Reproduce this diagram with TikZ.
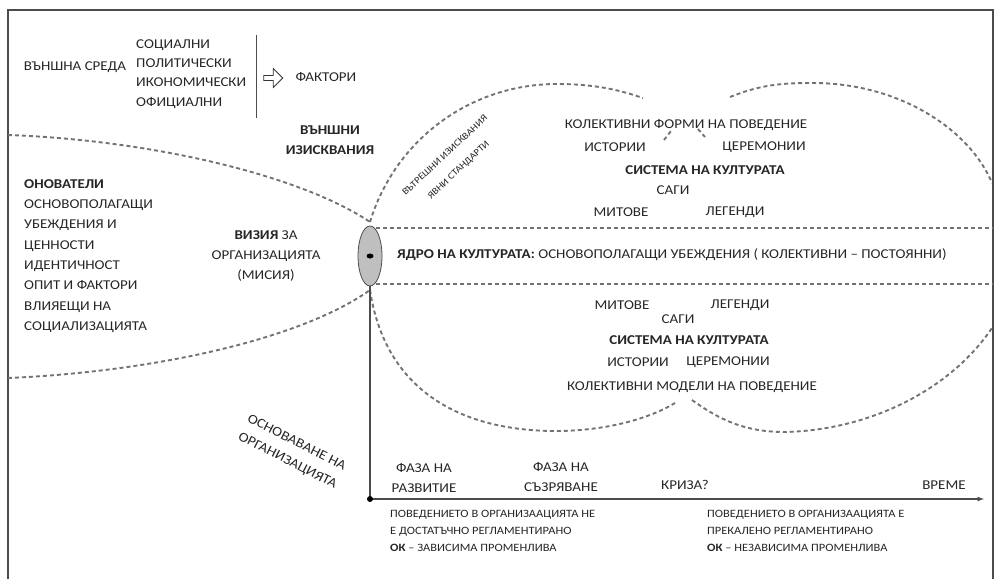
\documentclass[tikz,border=0pt]{standalone}
\usepackage{fontspec}
\setmainfont{Carlito}[FakeStretch=1.11]
\usepackage{xcolor}
\usetikzlibrary{arrows,shapes,backgrounds,fit,positioning}

\begin{document}
\begin{tikzpicture}[x=1pt,y=-1pt]
		\tikzstyle{frame}=[draw=black!70, line width=1.6pt]
		\tikzstyle{border}=[draw=black!55, line width=1.9pt, dash pattern=on 4pt off 3pt]
		\tikzstyle{item_text}=[font=\fontsize{13.5}{20}\selectfont, text=black!85, inner sep=1pt, align=center]
		\tikzstyle{item_bold}=[item_text, font=\fontsize{13.5}{20}\selectfont\bfseries]
		\tikzstyle{small_text}=[font=\fontsize{11.2}{17.2}\selectfont, text=black!85, inner sep=1pt, align=left]
		\tikzstyle{axis}=[draw=black!70, line width=1.2pt]

		\useasboundingbox (0,0) rectangle (998,579);
		\draw [frame] (8,579) -- (8,10) -- (993,10) -- (993,579);

		\begin{scope}
			\node [item_text] (env) at (75,67) {ВЪНШНА СРЕДА};
			\node [item_text, anchor=west, align=left, font=\fontsize{13.5}{19.3}\selectfont] (factor_list) at (135,74) {СОЦИАЛНИ\\ПОЛИТИЧЕСКИ\\ИКОНОМИЧЕСКИ\\ОФИЦИАЛНИ};
			\draw [draw=black!70, line width=1pt] (256,35) -- (256,118);
			\node [single arrow, draw=black!80, thick, fill=white, minimum height=19pt, minimum width=19pt, single arrow head extend=4pt, inner sep=1pt] (push) at (272,78) {};
			\node [item_text] (factors) at (326,77) {ФАКТОРИ};
			\node [item_bold] (ext_req) at (330,140) {ВЪНШНИ\\ИЗИСКВАНИЯ};
		\end{scope}

		\begin{scope}
			\node [item_text, anchor=west, align=left, font=\fontsize{13.5}{20.3}\selectfont] (founders) at (23,256) {\textbf{ОНОВАТЕЛИ}\\ОСНОВОПОЛАГАЩИ\\УБЕЖДЕНИЯ И\\ЦЕННОСТИ\\ИДЕНТИЧНОСТ\\ОПИТ И ФАКТОРИ\\ВЛИЯЕЩИ НА\\СОЦИАЛИЗАЦИЯТА};
			\node [item_text] (vision) at (266,256) {\textbf{ВИЗИЯ} ЗА\\ОРГАНИЗАЦИЯТА\\(МИСИЯ)};
		\end{scope}

		\draw [border] (8,135) .. controls (150,140) and (300,175) .. (370,222);
		\draw [border] (8,378) .. controls (150,372) and (300,340) .. (370,290);
		\draw [border] (370,222) .. controls (395,140) and (470,84) .. (557,84) .. controls (600,84) and (625,92) .. (643,98);
		\draw [border] (730,97) .. controls (760,85) and (780,83) .. (813,83) .. controls (900,83) and (970,130) .. (992,183);
		\draw [border] (664,140) -- (671,131);
		\draw [border] (698,129) -- (705,137);
		\draw [border] (376,228) -- (993,228);
		\draw [border] (376,284) -- (993,284);
		\draw [border] (370,290) .. controls (385,390) and (460,432) .. (560,431) .. controls (610,430) and (650,418) .. (675,403);
		\draw [border] (692,400) .. controls (720,420) and (745,432) .. (785,432) .. controls (870,430) and (950,390) .. (992,328);

		\node [ellipse, draw=black!70, thick, fill=black!25, minimum width=24pt, minimum height=60pt, inner sep=0pt] (core) at (370,256) {};
		\node [ellipse, fill=black, minimum width=7pt, minimum height=5pt, inner sep=0pt] (seed) at (core.center) {};

		\node [item_text, font=\fontsize{9.5}{20}\selectfont, rotate=43] (inner_req) at (452,163) {ВЪТРЕШНИ ИЗИСКВАНИЯ\\ЯВНИ СТАНДАРТИ};

		\begin{scope}
			\node [item_text] (forms) at (686,125) {КОЛЕКТИВНИ ФОРМИ НА ПОВЕДЕНИЕ};
			\node [item_text] (stories_t) at (615,147) {ИСТОРИИ};
			\node [item_text] (ceremonies_t) at (764,147) {ЦЕРЕМОНИИ};
			\node [item_bold] (system_t) at (705,170) {СИСТЕМА НА КУЛТУРАТА};
			\node [item_text] (sagas_t) at (673,190) {САГИ};
			\node [item_text] (myths_t) at (621,212) {МИТОВЕ};
			\node [item_text] (legends_t) at (735,212) {ЛЕГЕНДИ};
		\end{scope}

		\node [item_text, anchor=west] (core_text) at (396,255) {\textbf{ЯДРО НА КУЛТУРАТА:} ОСНОВОПОЛАГАЩИ УБЕЖДЕНИЯ ( КОЛЕКТИВНИ – ПОСТОЯННИ)};

		\begin{scope}
			\node [item_text] (myths_b) at (622,305) {МИТОВЕ};
			\node [item_text] (legends_b) at (740,305) {ЛЕГЕНДИ};
			\node [item_text] (sagas_b) at (678,319) {САГИ};
			\node [item_bold] (system_b) at (689,340) {СИСТЕМА НА КУЛТУРАТА};
			\node [item_text] (stories_b) at (638,362) {ИСТОРИИ};
			\node [item_text] (ceremonies_b) at (728,362) {ЦЕРЕМОНИИ};
			\node [item_text] (models) at (692,387) {КОЛЕКТИВНИ МОДЕЛИ НА ПОВЕДЕНИЕ};
		\end{scope}

		\coordinate (origin) at (370,499);
		\coordinate (axis_end) at (984,499);
		\draw [axis] (core.south) -- (origin);
		\draw [axis, -latex] (origin) -- (axis_end);
		\fill [black] (origin) circle (3pt);

		\begin{scope}
			\node [item_text, rotate=-27] (founding) at (292,452) {ОСНОВАВАНЕ НА\\ОРГАНИЗАЦИЯТА};
			\node [item_text] (phase1) at (424,478) {ФАЗА НА\\РАЗВИТИЕ};
			\node [item_text] (phase2) at (561,477) {ФАЗА НА\\СЪЗРЯВАНЕ};
			\node [item_text] (crisis) at (685,485) {КРИЗА?};
			\node [item_text] (time) at (944,485) {ВРЕМЕ};
			\node [small_text, anchor=north west] (note_left) at (389,509) {ПОВЕДЕНИЕТО В ОРГАНИЗААЦИЯТА НЕ\\Е ДОСТАТЪЧНО РЕГЛАМЕНТИРАНО\\\textbf{ОК} – ЗАВИСИМА ПРОМЕНЛИВА};
			\node [small_text, anchor=north west] (note_right) at (706,509) {ПОВЕДЕНИЕТО В ОРГАНИЗААЦИЯТА Е\\ПРЕКАЛЕНО РЕГЛАМЕНТИРАНО\\\textbf{ОК} – НЕЗАВИСИМА ПРОМЕНЛИВА};
		\end{scope}
	\end{tikzpicture}
\end{document}
